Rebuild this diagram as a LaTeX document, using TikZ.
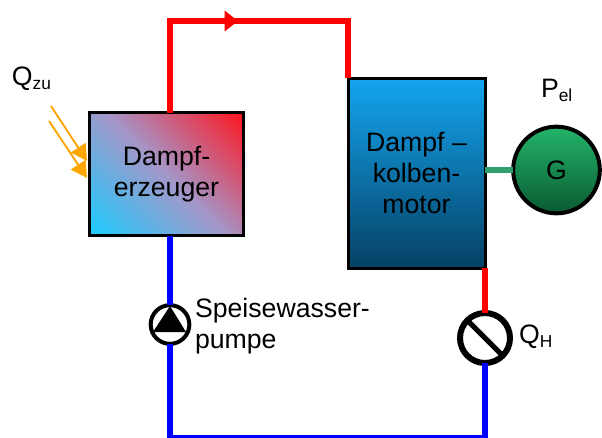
\documentclass[tikz,border=0pt]{standalone}
\usepackage{fontspec}
\setmainfont{Liberation Sans}
\usetikzlibrary{arrows.meta}
\definecolor{kalt}{RGB}{25,205,255}
\definecolor{mitte}{RGB}{165,150,200}
\definecolor{heiss}{RGB}{255,20,30}
\definecolor{motoroben}{RGB}{20,165,240}
\definecolor{motorunten}{RGB}{5,65,100}
\definecolor{genoben}{RGB}{35,180,105}
\definecolor{genunten}{RGB}{10,90,50}
\definecolor{welle}{RGB}{50,160,110}
\definecolor{strahl}{RGB}{255,165,0}
\pgfdeclareverticalshading{erzeugerverlauf}{100bp}{color(0bp)=(kalt); color(14.6bp)=(kalt); color(50bp)=(mitte); color(85.4bp)=(heiss); color(100bp)=(heiss)}
\newcommand{\tiefstellen}[1]{\raisebox{-3pt}{\fontsize{13}{13}\selectfont #1}}
\tikzset{every node/.style={font=\fontsize{20}{23}\selectfont,inner sep=0pt,outer sep=0pt}}
\tikzset{kasten/.style={draw=black,line width=2.25pt,align=center}}
\tikzset{dampfrohr/.style={draw=red,line width=4.5pt}}
\tikzset{wasserrohr/.style={draw=blue,line width=4.5pt}}
\tikzset{einstrahl/.style={draw=strahl,line width=1.4pt,-{Triangle[length=12pt,width=13pt]}}}
\begin{document}
\begin{tikzpicture}[x=0.75pt,y=-0.75pt]
\useasboundingbox (0,0) rectangle (602,437);
\clip (0,0) rectangle (602,437);
\node[kasten,minimum width=115.5pt,minimum height=92.25pt,shade,shading=erzeugerverlauf,shading angle=-45] (erzeuger) at (166.5,174) {Dampf-\\erzeuger};
\node[kasten,minimum width=102.75pt,minimum height=142.5pt,top color=motoroben,bottom color=motorunten] (motor) at (416.5,173) {Dampf –\\kolben-\\motor};
\node[circle,draw=black,line width=3pt,minimum size=65pt,top color=genoben,bottom color=genunten] (generator) at (556.5,170) {G};
\node[circle,draw=black,line width=3pt,minimum size=29pt,fill=white] (pumpe) at (170,324.5) {};
\node[circle,draw=black,line width=4.5pt,minimum size=37.5pt,fill=white] (ventil) at (485,338) {};
\coordinate (obenlinks) at (170,21);
\coordinate (pfeilspitze) at (238,21);
\coordinate (pfeilfuss) at (228,21);
\coordinate (obenrechts) at (348,21);
\coordinate (untenlinks) at (170,438);
\coordinate (untenrechts) at (485,438);
\coordinate (strahlAstart) at (51,106);
\coordinate (strahlAziel) at (87,161);
\coordinate (strahlBstart) at (49,121);
\coordinate (strahlBziel) at (87,178);
\draw[dampfrohr,-{Triangle[length=10pt,width=15pt]}] (erzeuger.north -| pumpe) -- (obenlinks) -- (pfeilspitze);
\draw[dampfrohr] (pfeilfuss) -- (obenrechts) -- (motor.north west);
\draw[dampfrohr] (motor.south east) -- (ventil.north);
\draw[wasserrohr] (erzeuger.south -| pumpe) -- (pumpe.north);
\draw[wasserrohr] (pumpe.south) -- (untenlinks) -- (untenrechts) -- (ventil.south);
\draw[draw=welle,line width=4.5pt] (generator.west -| motor.east) -- (generator.west);
\draw[einstrahl] (strahlAstart) -- (strahlAziel);
\draw[einstrahl] (strahlBstart) -- (strahlBziel);
\fill[black] (170,306) -- (186,332) -- (153,332) -- cycle;
\draw[black,line width=3.75pt] (ventil.135) -- (ventil.-45);
\node[anchor=base west] (qzu) at (12,85) {Q\tiefstellen{zu}};
\node[anchor=base west] (pel) at (541,97) {P\tiefstellen{el}};
\node[anchor=base west] (qh) at (519,343) {Q\tiefstellen{H}};
\node[anchor=base west,align=left] (speise) at (195,348) {Speisewasser-\\pumpe};
\end{tikzpicture}
\end{document}
